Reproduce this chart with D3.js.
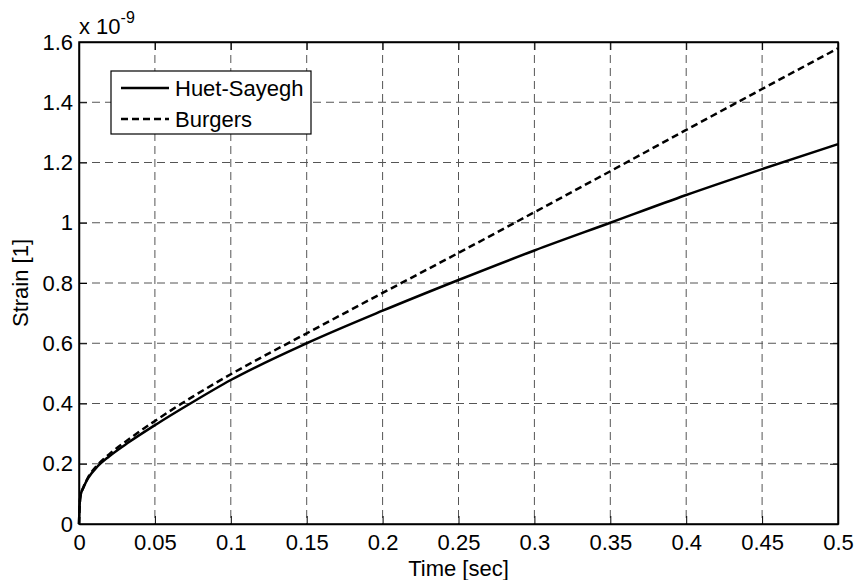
<!DOCTYPE html>
<html>
<head>
<meta charset="utf-8">
<script src="https://cdn.jsdelivr.net/npm/d3@7"></script>
<style>
  body { margin: 0; background: #fff; }
  text { font-family: Arial, "Liberation Sans", sans-serif; }
</style>
</head>
<body>
<div class="chart"></div>
<script>
const timeValues = [0, 0.0005, 0.001, 0.003, 0.006, 0.012, 0.02, 0.033, 0.05, 0.075, 0.1, 0.15, 0.2, 0.25, 0.3, 0.35, 0.4, 0.45, 0.5];
const huetSayegh = [0, 0.07, 0.095, 0.122, 0.152, 0.19, 0.225, 0.272, 0.328, 0.405, 0.478, 0.6, 0.708, 0.81, 0.908, 1.0, 1.092, 1.178, 1.261];
const burgers = [0, 0.066, 0.092, 0.123, 0.155, 0.195, 0.232, 0.282, 0.342, 0.423, 0.497, 0.633, 0.767, 0.9, 1.035, 1.171, 1.308, 1.444, 1.579];
const xTicks = [0, 0.05, 0.1, 0.15, 0.2, 0.25, 0.3, 0.35, 0.4, 0.45, 0.5];
const yTicks = [0, 0.2, 0.4, 0.6, 0.8, 1, 1.2, 1.4, 1.6];
const seriesNames = ['Huet-Sayegh', 'Burgers'];

const margin = { left: 79, right: 18, top: 42, bottom: 56 };
const chartWidth = 856;
const chartHeight = 580;
const width = chartWidth - margin.left - margin.right;
const height = chartHeight - margin.top - margin.bottom;
const fontSize = '22px';

const root = d3.select('.chart')
  .append('svg')
  .attr('width', chartWidth)
  .attr('height', chartHeight);

const svg = root.append('g')
  .attr('transform', `translate(${margin.left}, ${margin.top})`);

const xScale = d3.scaleLinear().domain([0, 0.5]).range([0, width]);
const yScale = d3.scaleLinear().domain([0, 1.6]).range([height, 0]);

// grid
svg.append('g')
  .selectAll('line')
  .data(xTicks.slice(1, -1))
  .enter()
  .append('line')
  .attr('x1', d => xScale(d)).attr('x2', d => xScale(d))
  .attr('y1', 0).attr('y2', height)
  .attr('stroke', '#555')
  .attr('stroke-width', 1)
  .attr('stroke-dasharray', '8,5');
svg.append('g')
  .selectAll('line')
  .data(yTicks.slice(1, -1))
  .enter()
  .append('line')
  .attr('x1', 0).attr('x2', width)
  .attr('y1', d => yScale(d)).attr('y2', d => yScale(d))
  .attr('stroke', '#555')
  .attr('stroke-width', 1)
  .attr('stroke-dasharray', '8,5');

// axes (ticks pointing inward, like matlab)
const fmt = d => (d === 0 ? '0' : String(d));
svg.append('g')
  .attr('transform', `translate(0, ${height})`)
  .call(d3.axisBottom(xScale).tickValues(xTicks).tickFormat(fmt).tickSizeInner(-8).tickSizeOuter(0).tickPadding(10));
svg.append('g')
  .call(d3.axisLeft(yScale).tickValues(yTicks).tickFormat(fmt).tickSizeInner(-8).tickSizeOuter(0).tickPadding(6));
svg.append('g')
  .call(d3.axisTop(xScale).tickValues(xTicks).tickFormat('').tickSizeInner(-8).tickSizeOuter(0));
svg.append('g')
  .attr('transform', `translate(${width}, 0)`)
  .call(d3.axisRight(yScale).tickValues(yTicks).tickFormat('').tickSizeInner(-8).tickSizeOuter(0));

svg.selectAll('.domain').attr('stroke', '#000').attr('stroke-width', 1.5);
svg.selectAll('.tick line').attr('stroke', '#000');
svg.selectAll('.tick text')
  .attr('font-size', fontSize)
  .attr('fill', '#000');

svg.append('rect')
  .attr('width', width)
  .attr('height', height)
  .attr('fill', 'none')
  .attr('stroke', '#000')
  .attr('stroke-width', 1.5);

// curves
const line = d3.line()
  .x(d => xScale(d[0]))
  .y(d => yScale(d[1]))
  .curve(d3.curveMonotoneX);

svg.append('path')
  .datum(timeValues.map((t, i) => [t, huetSayegh[i]]))
  .attr('d', line)
  .attr('fill', 'none')
  .attr('stroke', '#000')
  .attr('stroke-width', 2.5);

svg.append('path')
  .datum(timeValues.map((t, i) => [t, burgers[i]]))
  .attr('d', line)
  .attr('fill', 'none')
  .attr('stroke', '#000')
  .attr('stroke-width', 2.5)
  .attr('stroke-dasharray', '7,4');

// legend
const legend = root.append('g');
legend.append('rect')
  .attr('x', 111).attr('y', 71)
  .attr('width', 200).attr('height', 63)
  .attr('fill', '#fff')
  .attr('stroke', '#000')
  .attr('stroke-width', 1.2);
seriesNames.forEach((name, i) => {
  const y = 88 + i * 31;
  legend.append('line')
    .attr('x1', 121).attr('x2', 169)
    .attr('y1', y).attr('y2', y)
    .attr('stroke', '#000')
    .attr('stroke-width', 2.5)
    .attr('stroke-dasharray', i === 0 ? null : '7,4');
  legend.append('text')
    .attr('x', 175).attr('y', y)
    .attr('dominant-baseline', 'central')
    .attr('font-size', fontSize)
    .text(name);
});

// labels
root.append('text')
  .attr('x', margin.left + width / 2)
  .attr('y', 576)
  .attr('text-anchor', 'middle')
  .attr('font-size', fontSize)
  .text('Time [sec]');

root.append('text')
  .attr('transform', `translate(28, ${margin.top + height / 2}) rotate(-90)`)
  .attr('text-anchor', 'middle')
  .attr('font-size', fontSize)
  .text('Strain [1]');

const expo = root.append('text')
  .attr('x', 79)
  .attr('y', 34)
  .attr('font-size', fontSize);
expo.append('tspan').text('x 10');
expo.append('tspan')
  .attr('dy', -11)
  .attr('font-size', '16px')
  .text('-9');
</script>
</body>
</html>
